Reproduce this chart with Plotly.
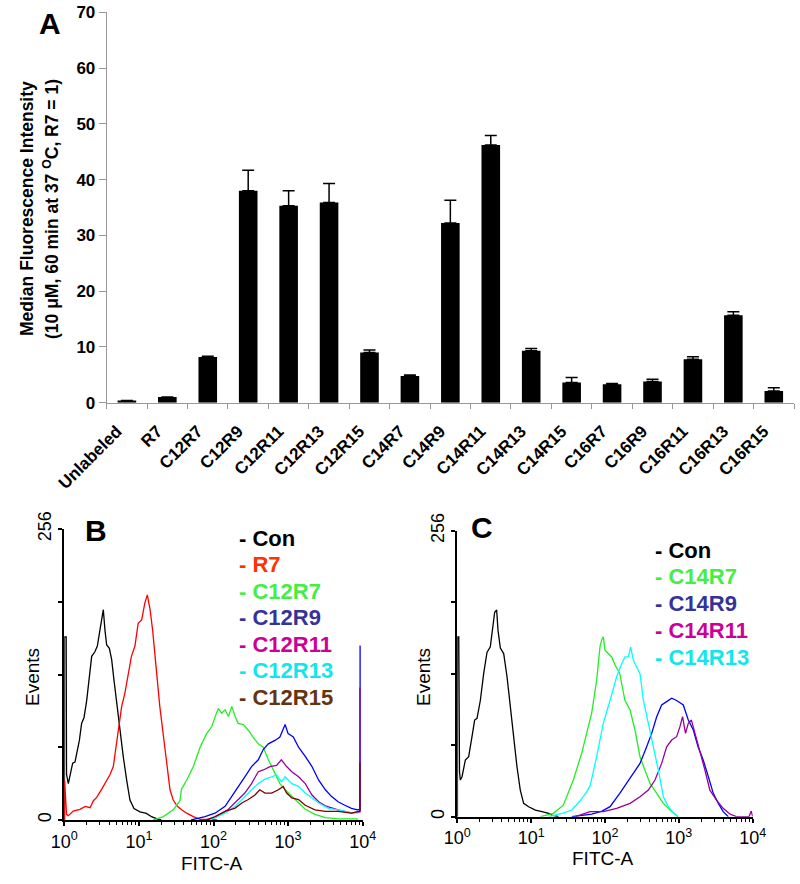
import numpy as np
import plotly.graph_objects as go

W, H = 800, 884
FONT = "Arial, Liberation Sans, sans-serif"

# ---- Panel A: median fluorescence intensity ----
peptides = ["Unlabeled", "R7", "C12R7", "C12R9", "C12R11", "C12R13", "C12R15",
            "C14R7", "C14R9", "C14R11", "C14R13", "C14R15",
            "C16R7", "C16R9", "C16R11", "C16R13", "C16R15"]
mfi = [0.4, 1.0, 8.2, 38.0, 35.3, 35.9, 9.0,
       4.8, 32.2, 46.2, 9.3, 3.6,
       3.3, 3.8, 7.8, 15.7, 2.1]
mfi_err = [0.0, 0.0, 0.15, 3.7, 2.7, 3.4, 0.45,
           0.15, 4.1, 1.7, 0.4, 0.9,
           0.15, 0.4, 0.45, 0.6, 0.6]

# ---- Panel B: flow histograms (x in decades, y in events) ----
b_con_log = [0.002, 0.002, 0.025, 0.03, 0.054, 0.076, 0.112, 0.143, 0.166, 0.202, 0.232, 0.264,
             0.30, 0.335, 0.367, 0.41, 0.443, 0.47, 0.50, 0.523, 0.545, 0.568, 0.604, 0.635,
             0.666, 0.70, 0.746, 0.79, 0.836, 0.88, 0.934, 1.015, 1.10, 1.17, 1.26, 1.30]
b_con_val = [0, 161, 161, 40, 32, 38, 50, 51, 58, 70, 85, 90,
             105, 123, 144, 148, 153, 164, 175, 185, 167, 154, 151, 141,
             123, 103, 79, 56, 35, 17.6, 10, 7.2, 5.8, 2.9, 0.6, 0]

b_r7_log = [0.004, 0.004, 0.03, 0.054, 0.12, 0.21, 0.28, 0.345, 0.39, 0.434, 0.50, 0.568,
            0.61, 0.657, 0.70, 0.737, 0.769, 0.81, 0.857, 0.90, 0.947, 0.99, 1.037, 1.08,
            1.113, 1.15, 1.184, 1.216, 1.247, 1.28, 1.327, 1.372, 1.417, 1.46, 1.515, 1.573,
            1.64, 1.73, 1.82, 1.95, 2.05]
b_r7_val = [0, 35, 5, 3.8, 7.9, 9.4, 12, 10.8, 17, 19.9, 27, 35,
            39.6, 47, 67, 85, 100, 111, 129, 144, 153, 173, 176, 191,
            198, 185, 167, 147, 123, 100, 73, 50, 26.6, 17.6, 12, 9,
            6, 3, 0.6, 0.6, 0]

b_c12r7_log = [1.19, 1.327, 1.46, 1.55, 1.57, 1.64, 1.73, 1.82, 1.908, 1.975, 2.04, 2.065,
               2.11, 2.155, 2.2, 2.245, 2.29, 2.33, 2.40, 2.466, 2.53, 2.6, 2.667, 2.735,
               2.824, 2.89, 2.96, 3.05, 3.14, 3.23, 3.36, 3.5, 3.68, 3.94]
b_c12r7_val = [0, 3, 9, 17, 27, 35, 47, 64, 76, 82, 94, 98,
               94, 97, 91, 100, 91, 85, 84, 79, 73, 67, 64, 53,
               41, 32, 26.6, 20.8, 15, 9.4, 5, 2, 1, 1]

b_c12r9_log = [1.7, 1.886, 2.02, 2.155, 2.245, 2.33, 2.42, 2.51, 2.6, 2.667, 2.735, 2.824,
               2.89, 2.96, 3.0, 3.07, 3.14, 3.23, 3.32, 3.41, 3.5, 3.58, 3.67, 3.76,
               3.85, 3.93, 3.965, 3.965, 3.972]
b_c12r9_val = [0, 3, 6, 12, 20.8, 29.6, 38, 47, 53, 62, 67, 70,
               73, 84, 76, 73, 64, 56, 47, 35, 26.6, 20.8, 16, 13,
               10.3, 9, 9, 153, 153]

b_c12r11_log = [1.9, 2.02, 2.2, 2.33, 2.42, 2.51, 2.6, 2.667, 2.757, 2.846, 2.91, 2.98,
                3.05, 3.14, 3.23, 3.32, 3.41, 3.5, 3.67, 3.85, 3.93, 3.962, 3.962, 3.97]
b_c12r11_val = [0, 2, 9.4, 18, 23.7, 32, 42.5, 44, 47, 48, 53, 47,
                42.5, 38, 32, 22, 16, 12.5, 9, 6, 7.4, 7.4, 116, 116]

b_c12r13_log = [1.95, 2.155, 2.29, 2.42, 2.51, 2.6, 2.69, 2.78, 2.846, 2.91, 2.96, 3.05,
                3.14, 3.23, 3.32, 3.41, 3.54, 3.67, 3.85, 3.94]
b_c12r13_val = [0, 6, 12, 20.8, 26.6, 32, 36, 38, 39.6, 33.7, 38, 32,
                29.6, 23.7, 19.4, 15, 10.3, 9, 6.5, 6]

b_c12r15_log = [1.9, 2.02, 2.155, 2.29, 2.38, 2.466, 2.556, 2.62, 2.69, 2.78, 2.87, 2.935,
                2.98, 3.05, 3.14, 3.23, 3.36, 3.5, 3.67, 3.85, 3.93, 3.962, 3.962, 3.97]
b_c12r15_val = [0, 3, 7.6, 10.5, 15, 18, 22, 26.6, 23.7, 23.7, 26.6, 29.6,
                23.7, 19.4, 18, 13, 9, 7.6, 7.6, 6, 7.4, 7.4, 50, 50]

# ---- Panel C ----
c_con_log = [0.002, 0.002, 0.02, 0.03, 0.041, 0.064, 0.109, 0.154, 0.199, 0.235, 0.267, 0.312,
             0.357, 0.402, 0.447, 0.479, 0.506, 0.533, 0.551, 0.583, 0.628, 0.673, 0.718, 0.763,
             0.808, 0.853, 0.898, 0.966, 1.057, 1.147, 1.237, 1.28, 1.37]
c_con_val = [0, 161, 161, 40, 32.8, 35.8, 50.7, 53.7, 71.6, 86.5, 88, 104,
             128, 147, 152, 167, 183, 185, 167, 151, 146, 125.5, 98.5, 71.6,
             44.7, 23.8, 11.9, 8.9, 5.9, 4.5, 3, 1.5, 0]

c_c14r7_log = [1.125, 1.30, 1.436, 1.571, 1.684, 1.751, 1.819, 1.887, 1.932, 1.954, 1.977, 2.0,
               2.045, 2.09, 2.135, 2.2, 2.27, 2.34, 2.406, 2.474, 2.54, 2.61, 2.7, 2.79,
               2.88, 2.947, 2.99]
c_c14r7_val = [0, 3, 10.3, 32.8, 56.7, 74.6, 92.5, 122, 152, 158, 161, 149,
               146, 143, 136, 128, 104, 95.5, 77.6, 53.7, 41.8, 29.8, 20.9, 11.9,
               6, 2.4, 0]

c_c14r9_log = [1.55, 1.82, 1.96, 2.068, 2.2, 2.29, 2.384, 2.474, 2.564, 2.632, 2.7, 2.767,
               2.835, 2.903, 2.97, 3.06, 3.128, 3.196, 3.26, 3.33, 3.4, 3.466, 3.535, 3.6, 3.67]
c_c14r9_val = [0, 2.4, 5, 9, 20.9, 29.8, 38.8, 47.7, 62.6, 74.6, 89.5, 100,
               103, 106, 104, 100, 86.5, 77.6, 62.6, 50.7, 35.8, 20.9, 11.9, 4.5, 0]

c_c14r11_log = [1.6, 1.797, 1.977, 2.158, 2.34, 2.474, 2.587, 2.677, 2.767, 2.835, 2.903, 2.97,
                3.015, 3.05, 3.09, 3.128, 3.17, 3.22, 3.285, 3.353, 3.42, 3.51, 3.6, 3.69,
                3.78, 3.95, 3.98, 4.0]
c_c14r11_val = [0, 4.5, 4.5, 7.5, 11.9, 17.9, 23.8, 32.8, 47.7, 62.6, 68.6, 71.6,
                80.6, 89.5, 74.6, 83.5, 86.5, 74.6, 56.7, 41.8, 23.8, 14.9, 7.5, 2.4,
                0, 0, 5, 0]

c_c14r13_log = [1.24, 1.42, 1.55, 1.66, 1.75, 1.80, 1.887, 1.977, 2.068, 2.158, 2.226, 2.27,
                2.316, 2.348, 2.384, 2.43, 2.474, 2.52, 2.587, 2.655, 2.722, 2.79, 2.858,
                2.925, 2.99]
c_c14r13_val = [0, 3, 6, 14, 22, 28, 53.7, 83.5, 104, 125.5, 137, 143,
                143, 152, 140, 134, 128, 104, 83.5, 62.6, 41.8, 17.9, 9,
                3.6, 0]

b_series = [("Con", b_con_log, b_con_val, "black", "black"),
            ("R7", b_r7_log, b_r7_val, "#ff0000", "#ff3300"),
            ("C12R7", b_c12r7_log, b_c12r7_val, "#22ee22", "#44ee44"),
            ("C12R9", b_c12r9_log, b_c12r9_val, "#0000ff", "#333399"),
            ("C12R11", b_c12r11_log, b_c12r11_val, "#990099", "#cc0099"),
            ("C12R13", b_c12r13_log, b_c12r13_val, "#00ffff", "#11e5ee"),
            ("C12R15", b_c12r15_log, b_c12r15_val, "#800000", "#663311")]
c_series = [("Con", c_con_log, c_con_val, "black", "black"),
            ("C14R7", c_c14r7_log, c_c14r7_val, "#22ee22", "#44ee44"),
            ("C14R9", c_c14r9_log, c_c14r9_val, "#0000ff", "#333399"),
            ("C14R11", c_c14r11_log, c_c14r11_val, "#990099", "#cc0099"),
            ("C14R13", c_c14r13_log, c_c14r13_val, "#00ffff", "#11e5ee")]

fig = go.Figure()

fig.add_trace(go.Bar(
    x=peptides, y=mfi, marker_color="black", marker_line_width=0,
    error_y=dict(type="data", symmetric=False, array=mfi_err, arrayminus=[0] * len(mfi_err),
                 color="black", thickness=1.5, width=6),
    xaxis="x", yaxis="y", showlegend=False))

for name, lg, val, col, _ in b_series:
    fig.add_trace(go.Scatter(x=10 ** np.array(lg), y=val, mode="lines",
                             line=dict(color=col, width=1.3), xaxis="x2", yaxis="y2",
                             showlegend=False))
for name, lg, val, col, _ in c_series:
    fig.add_trace(go.Scatter(x=10 ** np.array(lg), y=val, mode="lines",
                             line=dict(color=col, width=1.3), xaxis="x3", yaxis="y3",
                             showlegend=False))


def px_x(x):
    return x / W


def px_y(y):
    return 1 - y / H


minor_pos = [k * 10 ** d for d in range(4) for k in range(2, 10)]
bold17 = dict(family=FONT, size=17, color="black", weight="bold")
hist_x = dict(type="log", range=[0, 4], tickvals=[1, 10, 100, 1000, 10000],
              ticktext=["10<sup>0</sup>", "10<sup>1</sup>", "10<sup>2</sup>",
                        "10<sup>3</sup>", "10<sup>4</sup>"],
              showline=True, linecolor="black", linewidth=2, ticks="outside",
              ticklen=4, tickwidth=1.5, tickcolor="black", showgrid=False, zeroline=False,
              automargin=False, tickfont=dict(family=FONT, size=18, color="black"),
              minor=dict(ticks="outside", ticklen=3, tickcolor="black", tickwidth=1,
                         tickmode="array", tickvals=minor_pos, showgrid=False))
hist_y = dict(range=[0, 256], tickvals=[0, 64, 128, 192, 256], ticktext=["0", "", "", "", "256"],
              tickangle=-90, showline=True, linecolor="black", linewidth=2, ticks="outside",
              ticklen=4, tickwidth=1.5, tickcolor="black", showgrid=False, zeroline=False,
              automargin=False, tickfont=dict(family=FONT, size=18, color="black"))

fig.update_layout(
    width=W, height=H, margin=dict(l=0, r=0, t=0, b=0, autoexpand=False),
    plot_bgcolor="white", paper_bgcolor="white",
    bargap=0.54,
    xaxis=dict(domain=[px_x(106.7), px_x(794)], type="category", tickangle=-45,
               tickfont=bold17, showline=True, linecolor="#999999", linewidth=1,
               ticks="outside", tickson="boundaries", ticklen=5, tickcolor="#999999",
               ticklabelstandoff=11, ticklabelshift=-10,
               showgrid=False, automargin=False),
    yaxis=dict(domain=[px_y(402.7), px_y(12.3)], range=[0, 70], dtick=10,
               tickfont=bold17, showline=True, linecolor="#999999", linewidth=1,
               ticks="outside", ticklen=7, tickcolor="#999999", showgrid=False, zeroline=False,
               automargin=False),
    xaxis2=dict(domain=[px_x(64.3), px_x(362.7)], anchor="y2", **hist_x),
    yaxis2=dict(domain=[px_y(820), px_y(529)], anchor="x2", **hist_y),
    xaxis3=dict(domain=[px_x(457.3), px_x(752.7)], anchor="y3", **hist_x),
    yaxis3=dict(domain=[px_y(816.7), px_y(530.7)], anchor="x3", **hist_y),
)


def note(text, cx, cy, size, color="black", bold=True, angle=0, xanchor="center"):
    return dict(x=px_x(cx), y=px_y(cy), xref="paper", yref="paper", text=text,
                xanchor=xanchor, yanchor="middle", textangle=angle, showarrow=False,
                font=dict(family=FONT, size=size, color=color,
                          weight="bold" if bold else "normal"))


ann = [note("Median Fluorescence Intensity", 27, 209, 17.5, angle=-90),
       note("(10 \u03bcM, 60 min at 37 <sup>O</sup>C, R7 = 1)", 51, 209, 17.5, angle=-90)]
for lab, cx, cy in [("A", 50, 23), ("B", 96, 530), ("C", 482, 527)]:
    ann.append(note(lab, cx, cy, 30))
for cx, cy in [(32, 677), (423, 677)]:
    ann.append(note("Events", cx, cy, 19, bold=False, angle=-90))
for cx, cy in [(212, 863), (603, 858)]:
    ann.append(note("FITC-A", cx, cy, 19, bold=False))
for i, (name, _, _, _, tcol) in enumerate(b_series):
    ann.append(note("- " + name, 237, 538 + 26.5 * i, 22, color=tcol, xanchor="left"))
for i, (name, _, _, _, tcol) in enumerate(c_series):
    ann.append(note("- " + name, 653, 550 + 26.8 * i, 22, color=tcol, xanchor="left"))
fig.update_layout(annotations=ann)

fig.write_html("out.html", config={"displayModeBar": False},
               post_script="document.body.style.margin='0';")
